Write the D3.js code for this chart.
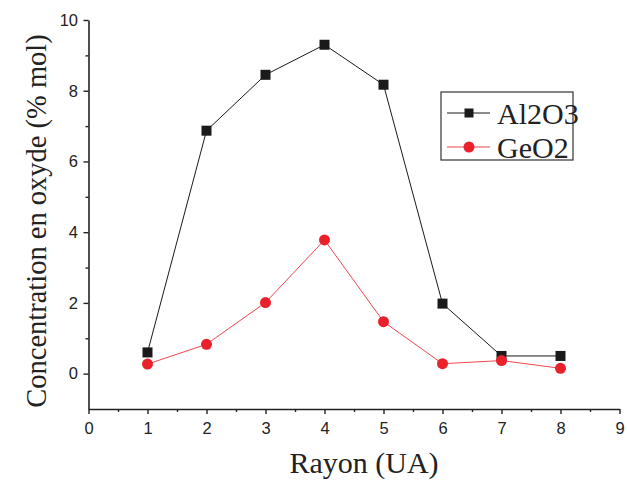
<!DOCTYPE html>
<html><head><meta charset="utf-8">
<script src="https://cdn.jsdelivr.net/npm/d3@7"></script>
<style>body{margin:0;background:#fff}svg{display:block}</style>
</head><body>
<script>
const rayon = [1, 2, 3, 4, 5, 6, 7, 8];
const al2o3 = [0.6, 6.87, 8.45, 9.3, 8.17, 1.98, 0.5, 0.5];
const geo2 = [0.27, 0.83, 2.01, 3.78, 1.47, 0.28, 0.37, 0.15];
const xTicks = [0, 1, 2, 3, 4, 5, 6, 7, 8, 9];
const yTicks = [0, 2, 4, 6, 8, 10];
const seriesNames = ["Al2O3", "GeO2"];
const colors = ["#1a1a1a", "#e8212b"];
const lineColors = ["#1a1a1a", "#f0484f"];

const W = 627, H = 484;
const svg = d3.select("body").append("svg").attr("width", W).attr("height", H);
const x = d3.scaleLinear().domain([0, 9]).range([88.5, 619.5]);
const y = d3.scaleLinear().domain([-1, 10]).range([409, 20]);

const tickFont = "'Liberation Sans', Arial, sans-serif";
const serif = "'Liberation Serif', 'Times New Roman', serif";

// X axis
const xAxis = svg.append("g").attr("transform", "translate(0,409)");
xAxis.call(d3.axisBottom(x).tickValues(xTicks).tickFormat(d3.format("d")).tickSize(5).tickSizeOuter(0));
xAxis.append("g").call(d3.axisBottom(x).tickValues(d3.range(0.5, 9, 1)).tickFormat("").tickSize(3).tickSizeOuter(0))
  .select(".domain").remove();
// Y axis
const yAxis = svg.append("g").attr("transform", "translate(88.5,0)");
yAxis.call(d3.axisLeft(y).tickValues(yTicks).tickFormat(d3.format("d")).tickSize(5).tickSizeOuter(0));
yAxis.append("g").call(d3.axisLeft(y).tickValues([1, 3, 5, 7, 9]).tickFormat("").tickSize(3).tickSizeOuter(0))
  .select(".domain").remove();

svg.selectAll(".domain").attr("stroke", "#222").attr("stroke-width", 1.6);
svg.selectAll(".tick line").attr("stroke", "#222").attr("stroke-width", 1.4);
svg.selectAll(".tick text").attr("font-family", tickFont).attr("font-size", 16.5).attr("fill", "#222");
xAxis.selectAll(".tick text").attr("dy", "1.05em");
yAxis.selectAll(".tick text").attr("dx", "-0.15em");

// Titles
svg.append("text").attr("x", 364).attr("y", 472.5).attr("text-anchor", "middle")
  .attr("font-family", serif).attr("font-size", 30).attr("fill", "#222").text("Rayon (UA)");
svg.append("text").attr("transform", "translate(46,221) rotate(-90)").attr("text-anchor", "middle")
  .attr("font-family", serif).attr("font-size", 28.5).attr("fill", "#222").text("Concentration en oxyde (% mol)");

// Series
const data = [al2o3, geo2];
const line = d3.line().x((d, i) => x(rayon[i])).y(d => y(d));
data.forEach((vals, k) => {
  svg.append("path").datum(vals).attr("d", line).attr("fill", "none")
    .attr("stroke", lineColors[k]).attr("stroke-width", 1);
});
// markers
svg.selectAll(".sq").data(al2o3).enter().append("rect")
  .attr("x", (d, i) => x(rayon[i]) - 5).attr("y", d => y(d) - 5)
  .attr("width", 10).attr("height", 10).attr("fill", colors[0]);
svg.selectAll(".ci").data(geo2).enter().append("circle")
  .attr("cx", (d, i) => x(rayon[i])).attr("cy", d => y(d)).attr("r", 5.5).attr("fill", colors[1]);

// Legend
const lg = svg.append("g");
lg.append("rect").attr("x", 441).attr("y", 92).attr("width", 132).attr("height", 68)
  .attr("fill", "none").attr("stroke", "#333").attr("stroke-width", 1.2);
const ly = [113, 147];
seriesNames.forEach((name, k) => {
  lg.append("line").attr("x1", 447).attr("x2", 490).attr("y1", ly[k]).attr("y2", ly[k])
    .attr("stroke", lineColors[k]).attr("stroke-width", 1);
  if (k === 0) lg.append("rect").attr("x", 464.5).attr("y", ly[k] - 4.5).attr("width", 9).attr("height", 9).attr("fill", colors[0]);
  else lg.append("circle").attr("cx", 469).attr("cy", ly[k]).attr("r", 5.5).attr("fill", colors[1]);
  lg.append("text").attr("x", 497).attr("y", ly[k] + 10.5).attr("font-family", serif).attr("font-size", 30)
    .attr("fill", "#222").text(name);
});
</script>
</body></html>
